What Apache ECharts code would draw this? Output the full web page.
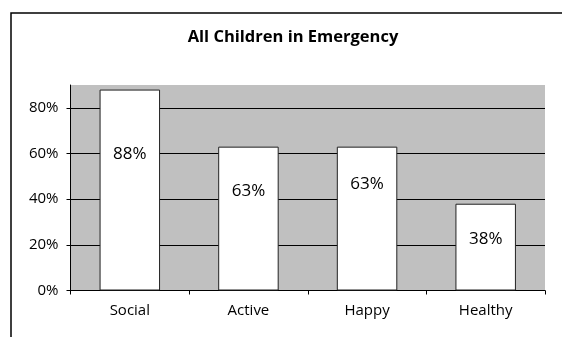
<!DOCTYPE html>
<html>
<head>
<meta charset="utf-8">
<script src="https://cdn.jsdelivr.net/npm/echarts@6/dist/echarts.min.js"></script>
<style>
html,body{margin:0;padding:0;background:#fff;}
#c{width:562px;height:337px;}
</style>
</head>
<body>
<div id="c"></div>
<script>
var categories = ['Social', 'Active', 'Happy', 'Healthy'];
var values = [0.88, 0.63, 0.63, 0.38];
var yTicks = [0, 0.2, 0.4, 0.6, 0.8];
var titleText = 'All Children in Emergency';
// label vertical offset (px from bar top) — style only
var labelOffsets = [65, 45, 38, 35];

var font = '"Open Sans", "Noto Sans", sans-serif';
var chart = echarts.init(document.getElementById('c'), null, {renderer: 'canvas'});
var barData = values.map(function (v, i) {
  return {
    value: v,
    label: {position: ['50%', labelOffsets[i]]}
  };
});
chart.setOption({
  animation: false,
  backgroundColor: '#ffffff',
  graphic: [{
    type: 'rect',
    shape: {x: 11, y: 13, width: 700, height: 500},
    style: {fill: 'none', stroke: '#000', lineWidth: 1.5},
    silent: true
  }, {
    type: 'text',
    x: 293, y: 37,
    style: {
      text: titleText, align: 'center', verticalAlign: 'middle',
      font: 'bold 16.5px ' + font, fill: '#000'
    },
    silent: true
  }],
  grid: {
    left: 70.5, right: 17, top: 85, bottom: 46.5,
    show: true, backgroundColor: '#c0c0c0', borderWidth: 0
  },
  xAxis: {
    type: 'category',
    data: categories,
    axisLine: {lineStyle: {color: '#000', width: 1}},
    axisTick: {show: true, length: 4, lineStyle: {color: '#000'}},
    axisLabel: {fontFamily: font, fontSize: 15, color: '#000', margin: 13}
  },
  yAxis: {
    type: 'value',
    min: 0, max: 0.9, interval: 0.2,
    axisLine: {show: true, lineStyle: {color: '#000', width: 1}},
    axisTick: {show: true, length: 4, lineStyle: {color: '#000'}},
    axisLabel: {
      fontFamily: font, fontSize: 15, color: '#000', margin: 12,
      showMaxLabel: false,
      formatter: function (v) {
        return yTicks.some(function (t) { return Math.abs(t - v) < 1e-9; }) ? Math.round(v * 100) + '%' : '';
      }
    },
    splitLine: {show: true, showMaxLine: false, showMinLine: false, lineStyle: {color: '#000', width: 1}}
  },
  series: [{
    type: 'bar',
    data: barData,
    barWidth: '51%',
    itemStyle: {color: '#ffffff', borderColor: '#222', borderWidth: 1},
    label: {
      show: true,
      align: 'center',
      verticalAlign: 'middle',
      fontFamily: font, fontSize: 17, color: '#000',
      formatter: function (p) { return Math.round(p.value * 100) + '%'; }
    }
  }]
});
</script>
</body>
</html>
